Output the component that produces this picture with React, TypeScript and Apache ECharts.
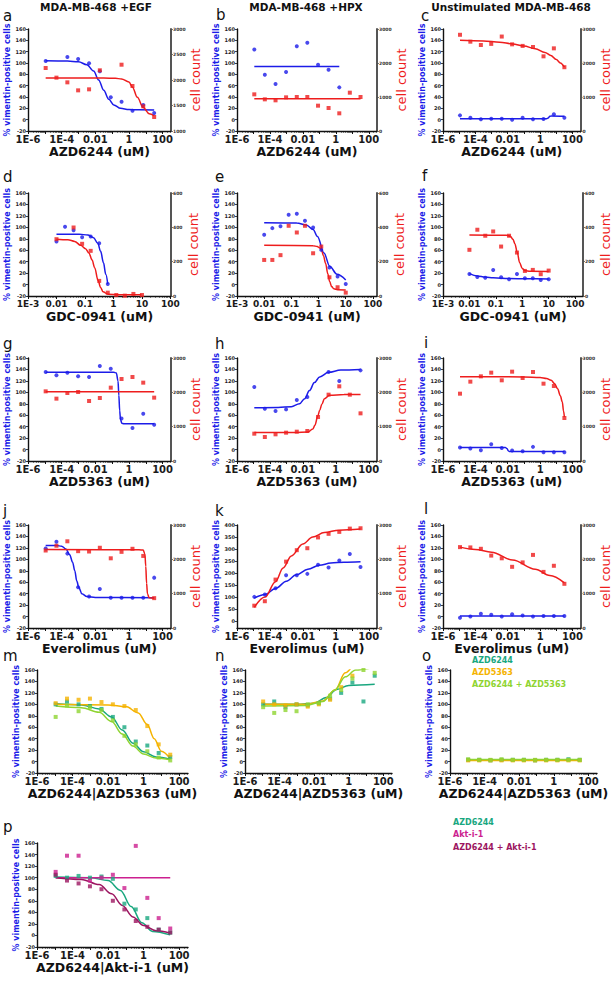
import React, { useEffect, useRef } from "react";
import * as echarts from "echarts";

const FONT = "DejaVu Sans";
const BLUE = "#1c1ce8";
const RED = "#ee1d1d";
const TEAL = "#19a77f";
const ORANGE = "#f5b301";
const LIME = "#8fd431";
const MAGENTA = "#cc1f8f";
const PURPLE = "#9c1560";

// log10 of concentration (uM)
const logConcA = [-4.95, -4.31, -3.66, -3.02, -2.37, -1.73, -1.08, -0.44, 0.21, 0.85, 1.5];
const logConcG = [-2.0, -1.7, -1.4, -1.1, -0.8, -0.5, -0.2, 0.1, 0.4, 0.7, 1.0];

const ticksA = [-6, -4, -2, 0, 2];
const tickLabelsA = ["1E-6", "1E-4", "0.01", "1", "100"];
const ticksG = [-3, -2, -1, 0, 1, 2];
const tickLabelsG = ["1E-3", "0.01", "0.1", "1", "10", "100"];

// a
const aVim = [103.5, null, 110.6, 107, 99.4, 85.3, 39.4, 31.8, 15.9, 25.9, 11.8];
const aCells = [2235, 2046, 1954, 1797, 1817, 2190, null, 2300, 1882, 1484, 1274];
const aVimFit = [[-4.95, 104], [-3.66, 103.5], [-3.0, 102], [-2.5, 97], [-2.1, 86], [-1.8, 70], [-1.5, 52], [-1.2, 36], [-0.9, 26], [-0.5, 20], [0, 18], [0.6, 17.3], [1.5, 17]];
const aCellsFit = [[-4.95, 2040], [-1.5, 2038], [-0.8, 2032], [-0.44, 2022], [0.0, 1960], [0.21, 1860], [0.5, 1660], [0.85, 1460], [1.2, 1340], [1.5, 1300]];
// b
const bVim = [124, 79.4, 62.9, 84, 129.4, 135.9, 97, 88.2, 57, null, null];
const bCells = [1078, 931, 902, 990, 1000, 1000, 745, 676, 520, 1127, 1000];
const bVimFit = [[-4.95, 94], [0.21, 94]];
const bCellsFit = [[-4.95, 945], [1.5, 945]];
// c
const cVim = [7.6, 3.5, 0.6, 1.8, 1.8, 0, 3.5, 0.6, 1.2, 9.4, 3.5];
const cCells = [2830, 2627, 2529, 2562, 2778, 2549, 2503, 2471, 2196, 2431, 1876];
const cVimFit = [[-4.95, 1.8], [0.4, 1.8], [0.5, 3], [0.6, 6], [0.7, 6.6], [1.5, 6.2]];
const cCellsFit = [[-4.95, 2667], [-3.5, 2650], [-2.5, 2610], [-1.7, 2562], [-1.0, 2500], [-0.3, 2418], [0.3, 2310], [0.66, 2222], [1.0, 2100], [1.25, 2000], [1.5, 1876]];
// d
const dVim = [75.3, 100.9, 95, 82.7, 84, 72.3, 1.0, null, null, null, null];
const dCells = [331, null, 399, 304, 263, 88, 19.5, 6, 2, 12, 6];
const dVimFit = [[-2.0, 88], [-1.2, 88], [-0.9, 86.5], [-0.7, 82], [-0.55, 72], [-0.45, 58], [-0.35, 38], [-0.27, 18], [-0.2, 1]];
const dCellsFit = [[-2.0, 331], [-1.6, 328], [-1.36, 318], [-1.15, 295], [-0.98, 275], [-0.86, 250], [-0.75, 210], [-0.66, 165], [-0.54, 90], [-0.45, 50], [-0.37, 25], [-0.19, 10], [0.2, 7], [0.98, 7]];
// e
const eVim = [87, 98.6, 102, 122, 123.8, 111.5, 99.8, 60.6, 29.7, 14, 1];
const eCells = [210, 210, 238, 409, 370, 409, 249, 288, 109, 51, 19.5];
const eVimFit = [[-2.0, 108], [-0.8, 107.5], [-0.45, 104], [-0.2, 96], [-0.04, 84], [0.2, 55], [0.41, 32], [0.68, 18], [1.0, 8]];
const eCellsFit = [[-2.0, 295], [-0.2, 293], [-0.05, 288], [0.05, 280], [0.107, 268], [0.18, 235], [0.26, 190], [0.34, 130], [0.41, 84], [0.48, 55], [0.56, 42], [0.7, 37], [1.0, 35]];
// f
const fVim = [18.6, 13.3, 12, 25.6, 12.7, 9.2, 18.6, 11, 11, 8, 9.2];
const fCells = [269, 386, 351, 376, 288, 351, 253, 146, 152, 127, 148];
const fVimFit = [[-2.0, 19], [-1.7, 15], [-1.4, 13], [-1.1, 11.8], [-0.5, 10.5], [0.2, 10], [1.0, 9.8]];
const fCellsFit = [[-2.0, 355], [-0.6, 354], [-0.45, 348], [-0.35, 330], [-0.28, 305], [-0.19, 255], [-0.1, 195], [0.0, 160], [0.1, 148], [0.3, 144], [1.0, 143]];
// g
const gVim = [135.5, 129.7, 134.3, 128, 126.7, 146, 141.3, 54.4, 37.5, 62.6, 43.3];
const gCells = [2029, 1816, 1981, 2010, 1748, 1835, 2136, 2388, 2447, 2282, 1845];
const gVimFit = [[-4.95, 135], [-0.9, 135], [-0.75, 134], [-0.65, 120], [-0.6, 95], [-0.55, 68], [-0.5, 52], [-0.42, 46], [-0.3, 45], [1.5, 45]];
const gCellsFit = [[-4.95, 2020], [1.5, 2020]];
// h
const hVim = [109.2, 71.3, 67.2, 70.2, 86.5, 91.7, null, 135.5, 119.7, null, 138.4];
const hCells = [796, 699, 777, 825, 854, 874, 1282, 1932, 2175, 1932, 1388];
const hVimFit = [[-4.95, 73], [-3.5, 73.5], [-2.7, 75], [-2.2, 80], [-1.89, 89], [-1.6, 103], [-1.3, 117], [-0.98, 127], [-0.44, 135], [0.3, 139], [1.5, 140]];
const hCellsFit = [[-4.95, 830], [-2.5, 832], [-1.69, 845], [-1.4, 930], [-1.27, 1040], [-1.1, 1300], [-0.98, 1476], [-0.85, 1650], [-0.69, 1815], [-0.38, 1913], [0.5, 1938], [1.5, 1940]];
// i
const iVim = [3.5, 1.7, -1.2, 9.3, 2.9, -1.7, -2.9, 4.7, -4.7, -4.7, -4.7];
const iCells = [1961, 2311, 2466, 2573, 2350, 2602, 2417, 2592, 2252, 2184, 1252];
const iVimFit = [[-4.95, 3.5], [-2.15, 3.5], [-2.05, 2], [-1.97, -2], [-1.9, -3.5], [1.5, -3.5]];
const iCellsFit = [[-4.95, 2455], [-1.0, 2450], [0.0, 2430], [0.4, 2400], [0.68, 2350], [0.9, 2250], [1.08, 2107], [1.25, 1900], [1.37, 1718], [1.45, 1450], [1.5, 1281]];
// j
const jVim = [118.8, 130.6, 110, 51.2, 35, 48.2, 33, 33, 33, 33, 68];
const jCells = [2257, 2396, 2525, 2238, 2228, 2337, 2030, 2218, 2307, 2099, 870];
const jVimFit = [[-4.95, 124], [-4.3, 124], [-4.0, 123], [-3.75, 118], [-3.52, 108], [-3.35, 95], [-3.22, 80], [-3.1, 62], [-2.98, 51], [-2.8, 40], [-2.5, 35], [-2.0, 33.5], [1.5, 33]];
const jCellsFit = [[-4.95, 2285], [0.6, 2280], [0.85, 2270], [0.95, 2150], [1.0, 1800], [1.05, 1300], [1.1, 1000], [1.2, 880], [1.5, 870]];
// k
const kVim = [100, 110, 136, 190.6, 190.6, 196, 234, 223, 252, 278.6, 225];
const kCells = [650, 780, 1410, 1933, 2267, 2324, 2638, 2743, 2800, 2895, 2905];
const kVimFit = [[-4.95, 95], [-4.3, 110], [-3.66, 135], [-3.0, 165], [-2.4, 192], [-1.7, 215], [-1.0, 232], [-0.3, 241], [0.5, 245], [1.5, 247]];
const kCellsFit = [[-4.95, 600], [-4.3, 900], [-3.66, 1350], [-3.2, 1750], [-2.7, 2100], [-2.0, 2450], [-1.4, 2650], [-0.7, 2780], [0.2, 2850], [1.5, 2880]];
// l
const lVim = [-2, 0, 5, 3, 0, 4, 2, 0, 1, 1, 1];
const lCells = [2356, 2347, 2307, 2109, 2030, 1782, 1911, 2129, 1634, 1812, 1287];
const lVimFit = [[-4.95, 1], [1.5, 1]];
const lCellsFit = [[-4.95, 2356], [-4.0, 2290], [-3.0, 2208], [-1.7, 1980], [-0.3, 1713], [0.6, 1530], [1.5, 1317]];
// m
const mAzd6244 = [100, 105, 100, 97, 92, 78, 60, 35, 28, 15, 8];
const mAzd5363 = [102, 110, 108, 110, 104, 100, 97, 90, 62, 30, 12];
const mCombo = [78, 98, 88, 95, 90, 72, 45, 30, 18, 7, 2];
const mAzd6244Fit = [[-4.95, 101], [-3.5, 99], [-2.5, 92], [-1.8, 78], [-1.2, 55], [-0.6, 32], [0, 17], [0.7, 8], [1.5, 4]];
const mAzd5363Fit = [[-4.95, 100], [-2, 99], [-1, 96], [-0.3, 85], [0.2, 65], [0.6, 40], [1.0, 18], [1.5, 5]];
const mComboFit = [[-4.95, 97], [-3.5, 94], [-2.5, 86], [-1.8, 70], [-1.2, 48], [-0.6, 27], [0, 13], [0.7, 6], [1.5, 3]];
// n
const nAzd6244 = [100, 105, 95, 100, 98, 102, 110, 120, 138, 105, 150];
const nAzd5363 = [105, 100, 98, 100, 96, 100, 108, 130, 150, 165, 170];
const nCombo = [95, 85, 90, 88, 100, 102, 115, 125, 145, 160, 155];
const nAzd6244Fit = [[-4.95, 100], [-3, 100], [-2, 102], [-1.3, 112], [-0.7, 126], [0, 133], [1.5, 135]];
const nAzd5363Fit = [[-4.95, 100], [-2.5, 100], [-1.5, 106], [-0.8, 125], [-0.2, 155], [0.4, 170], [1.5, 175]];
const nComboFit = [[-4.95, 97], [-2.5, 98], [-1.5, 105], [-0.8, 125], [-0.2, 148], [0.4, 160], [1.5, 165]];
// o
const oAzd6244 = [3, 3, 2, 3, 3, 3, 2, 3, 3, 4, 3];
const oAzd5363 = [2, 2, 2, 2, 2, 2, 2, 2, 2, 2, 2];
const oCombo = [4, 3, 3, 4, 3, 3, 3, 3, 3, 3, 3];
const oAzd6244Fit = [[-4.95, 3], [1.5, 3]];
const oAzd5363Fit = [[-4.95, 2], [1.5, 2]];
const oComboFit = [[-4.95, 3.5], [1.5, 3.5]];
// p
const pAzd6244 = [103, 100, 103, 100, 102, 98, 55, 45, 30, 10, 5];
const pAkt = [110, 138, 138, 95, 100, 105, 82, 155, 65, 30, 12];
const pCombo = [105, 95, 90, 85, 80, 60, 45, 25, 15, 10, 5];
const pAzd6244Fit = [[-4.95, 101], [-3.0, 100], [-2.0, 95], [-1.3, 78], [-0.7, 50], [-0.1, 22], [0.5, 7], [1.5, 1]];
const pAktFit = [[-4.95, 100], [1.5, 100]];
const pComboFit = [[-4.95, 100], [-3.5, 97], [-2.5, 88], [-1.8, 72], [-1.2, 52], [-0.6, 32], [0, 17], [0.7, 8], [1.5, 4]];

const legendO = ["AZD6244", "AZD5363", "AZD6244 + AZD5363"];
const legendP = ["AZD6244", "Akt-i-1", "AZD6244 + Akt-i-1"];

function pts(xs: number[], ys: (number | null)[]) {
  const out: number[][] = [];
  ys.forEach((y, i) => { if (y !== null) out.push([xs[i], y]); });
  return out;
}

type S = { kind: "scatter" | "line"; side: "L" | "R"; color: string; data: number[][]; symbol?: string };
type P = {
  letter: string; l: number; r: number; t: number; b: number;
  scale: "A" | "G"; xMin: number; xMax: number; xTitle: string;
  left?: { min: number; max: number; ticks: number[] };
  right?: { min: number; max: number; interval: number };
  series: S[];
};

function bioPanel(letter: string, l: number, r: number, t: number, b: number, scale: "A" | "G", xMin: number, xMax: number, xTitle: string,
  right: { min: number; max: number; interval: number }, vim: (number | null)[], cells: (number | null)[], vimFit: number[][], cellsFit: number[][], left?: { min: number; max: number; ticks: number[] }): P {
  const xs = scale === "A" ? logConcA : logConcG;
  return {
    letter, l, r, t, b, scale, xMin, xMax, xTitle, right, left,
    series: [
      { kind: "line", side: "L", color: BLUE, data: vimFit },
      { kind: "line", side: "R", color: RED, data: cellsFit },
      { kind: "scatter", side: "L", color: BLUE, data: pts(xs, vim), symbol: "circle" },
      { kind: "scatter", side: "R", color: RED, data: pts(xs, cells), symbol: "rect" },
    ],
  };
}

function comboPanel(letter: string, l: number, r: number, t: number, b: number, xTitle: string, cols: string[], vals: number[][], fits: number[][][]): P {
  const series: S[] = [];
  cols.forEach((c, k) => {
    series.push({ kind: "line", side: "L", color: c, data: fits[k] });
    series.push({ kind: "scatter", side: "L", color: c, data: pts(logConcA, vals[k]), symbol: "rect" });
  });
  return { letter, l, r, t, b, scale: "A", xMin: -6, xMax: 2.5, xTitle, series };
}

const R1 = [29, 131], R2 = [193, 296], R3 = [358, 461], R4 = [525, 628], R5 = [670, 773], R6 = [843, 947];
const C1 = [28, 171], C2 = [237, 377], C3 = [443, 585];
const rA = { min: 1000, max: 3000, interval: 500 };
const r3k = { min: 0, max: 3000, interval: 1000 };
const r600 = { min: 0, max: 600, interval: 200 };

const PANELS: P[] = [
  bioPanel("a", C1[0], C1[1], R1[0], R1[1], "A", -6, 2.5, "AZD6244 (uM)", rA, aVim, aCells, aVimFit, aCellsFit),
  bioPanel("b", C2[0], C2[1], R1[0], R1[1], "A", -6, 2.5, "AZD6244 (uM)", r3k, bVim, bCells, bVimFit, bCellsFit),
  bioPanel("c", C3[0], C3[1], R1[0], R1[1], "A", -6, 2.5, "AZD6244 (uM)", r3k, cVim, cCells, cVimFit, cCellsFit),
  bioPanel("d", C1[0], C1[1], R2[0], R2[1], "G", -3, 2.02, "GDC-0941 (uM)", r600, dVim, dCells, dVimFit, dCellsFit),
  bioPanel("e", C2[0], C2[1], R2[0], R2[1], "G", -3, 2.15, "GDC-0941 (uM)", r600, eVim, eCells, eVimFit, eCellsFit),
  bioPanel("f", C3[0], C3[1], R2[0], R2[1], "G", -3, 2.3, "GDC-0941 (uM)", r600, fVim, fCells, fVimFit, fCellsFit),
  bioPanel("g", C1[0], C1[1], R3[0], R3[1], "A", -6, 2.5, "AZD5363 (uM)", r3k, gVim, gCells, gVimFit, gCellsFit),
  bioPanel("h", C2[0], C2[1], R3[0], R3[1], "A", -6, 2.5, "AZD5363 (uM)", r3k, hVim, hCells, hVimFit, hCellsFit),
  bioPanel("i", C3[0], C3[1], R3[0], R3[1], "A", -6, 2.5, "AZD5363 (uM)", r3k, iVim, iCells, iVimFit, iCellsFit),
  bioPanel("j", C1[0], C1[1], R4[0], R4[1], "A", -6, 2.5, "Everolimus (uM)", r3k, jVim, jCells, jVimFit, jCellsFit),
  bioPanel("k", C2[0], C2[1], R4[0], R4[1], "A", -6, 2.5, "Everolimus (uM)", r3k, kVim, kCells, kVimFit, kCellsFit,
    { min: -30, max: 400, ticks: [0, 50, 100, 150, 200, 250, 300, 350, 400] }),
  bioPanel("l", C3[0], C3[1], R4[0], R4[1], "A", -6, 2.5, "Everolimus (uM)", r3k, lVim, lCells, lVimFit, lCellsFit),
  comboPanel("m", 37, 188, R5[0], R5[1], "AZD6244|AZD5363 (uM)", [TEAL, ORANGE, LIME], [mAzd6244, mAzd5363, mCombo], [mAzd6244Fit, mAzd5363Fit, mComboFit]),
  comboPanel("n", 245, 392, R5[0], R5[1], "AZD6244|AZD5363 (uM)", [TEAL, ORANGE, LIME], [nAzd6244, nAzd5363, nCombo], [nAzd6244Fit, nAzd5363Fit, nComboFit]),
  comboPanel("o", 450, 597, R5[0], R5[1], "AZD6244|AZD5363 (uM)", [TEAL, ORANGE, LIME], [oAzd6244, oAzd5363, oCombo], [oAzd6244Fit, oAzd5363Fit, oComboFit]),
  comboPanel("p", 37, 188, R6[0], R6[1], "AZD6244|Akt-i-1 (uM)", [TEAL, MAGENTA, PURPLE], [pAzd6244, pAkt, pCombo], [pAzd6244Fit, pAktFit, pComboFit]),
];

function minorTicks(min: number, max: number) {
  const out: number[] = [];
  for (let d = Math.floor(min); d <= Math.ceil(max); d++) {
    for (let k = 2; k <= 9; k++) {
      const v = d + Math.log10(k);
      if (v > min + 1e-6 && v < max - 1e-6) out.push(v);
    }
  }
  return out;
}

function buildOption() {
  const grid: any[] = [], xAxis: any[] = [], yAxis: any[] = [], series: any[] = [], graphic: any[] = [];
  PANELS.forEach((p) => {
    const gi = grid.length;
    grid.push({ left: p.l, top: p.t, width: p.r - p.l, height: p.b - p.t, containLabel: false });
    const major = p.scale === "A" ? ticksA : ticksG;
    const labels = p.scale === "A" ? tickLabelsA : tickLabelsG;
    const decades: number[] = [];
    for (let d = Math.ceil(p.xMin); d <= Math.floor(p.xMax); d++) decades.push(d);
    const xi = xAxis.length;
    xAxis.push({
      type: "value", gridIndex: gi, min: p.xMin, max: p.xMax, position: "bottom",
      axisLine: { onZero: false, lineStyle: { color: "#111", width: 1.4 } },
      axisTick: { show: true, customValues: decades, length: 3, lineStyle: { color: "#111", width: 1 } },
      axisLabel: {
        customValues: major, margin: 3, fontFamily: FONT, fontWeight: "bold", fontSize: p.scale === "A" ? 10 : 9, color: "#1a1a1a",
        showMinLabel: true, showMaxLabel: true, hideOverlap: false,
        formatter: (v: number) => labels[major.indexOf(Math.round(v))] ?? "",
      },
      splitLine: { show: false },
      name: p.xTitle, nameLocation: "middle", nameGap: 14,
      nameTextStyle: { fontFamily: FONT, fontWeight: "bold", fontSize: 12.5, color: "#111" },
    });
    xAxis.push({
      type: "value", gridIndex: gi, min: p.xMin, max: p.xMax, position: "bottom",
      axisLine: { show: false, onZero: false },
      axisTick: { show: true, customValues: minorTicks(p.xMin, p.xMax), length: 1.6, lineStyle: { color: "#111", width: 0.8 } },
      axisLabel: { show: false }, splitLine: { show: false },
    });
    const left = p.left ?? { min: -20, max: 160, ticks: [-20, 0, 20, 40, 60, 80, 100, 120, 140, 160] };
    const yl = yAxis.length;
    yAxis.push({
      type: "value", gridIndex: gi, min: left.min, max: left.max, position: "left",
      axisLine: { show: true, onZero: false, lineStyle: { color: "#111", width: 1.4 } },
      axisTick: { show: true, customValues: left.ticks, length: 2, lineStyle: { color: "#111", width: 0.8 } },
      axisLabel: {
        customValues: left.ticks, margin: 2, fontFamily: FONT, fontWeight: "bold", fontSize: 5, color: "#222",
        showMinLabel: true, showMaxLabel: true, formatter: (v: number) => String(Math.round(v)),
      },
      splitLine: { show: false },
      name: "% vimentin-positive cells", nameLocation: "middle", nameRotate: 90, nameGap: 14,
      nameTextStyle: { fontFamily: FONT, fontWeight: "bold", fontSize: 8, color: BLUE },
    });
    let yr = yl;
    if (p.right) {
      yr = yAxis.length;
      yAxis.push({
        type: "value", gridIndex: gi, min: p.right.min, max: p.right.max, interval: p.right.interval, position: "right",
        axisLine: { show: true, onZero: false, lineStyle: { color: "#555", width: 2 } },
        axisTick: { show: true, length: 2, lineStyle: { color: "#555", width: 0.8 } },
        axisLabel: {
          margin: 2, fontFamily: FONT, fontWeight: "bold", fontSize: 4.5, color: "#333",
          showMinLabel: true, showMaxLabel: true, formatter: (v: number) => String(Math.round(v)),
        },
        splitLine: { show: false },
        name: "cell count", nameLocation: "middle", nameRotate: 90, nameGap: 16,
        nameTextStyle: { fontFamily: FONT, fontSize: 13, color: RED },
      });
    }
    p.series.forEach((s) => {
      const yIndex = s.side === "L" ? yl : yr;
      if (s.kind === "line") {
        series.push({
          type: "line", xAxisIndex: xi, yAxisIndex: yIndex, data: s.data, showSymbol: false, symbol: "none",
          smooth: 0.35, smoothMonotone: "x", lineStyle: { color: s.color, width: 1.5 }, silent: true, z: 2,
        });
      } else {
        series.push({
          type: "scatter", xAxisIndex: xi, yAxisIndex: yIndex, data: s.data, symbol: s.symbol ?? "circle",
          symbolSize: 4, itemStyle: { color: s.color }, silent: true, z: 3,
        });
      }
    });
  });

  const letters: Record<string, number[]> = {
    a: [3, 16], b: [216, 15], c: [421, 16], d: [3, 177], e: [215, 177], f: [422, 176],
    g: [3, 344], h: [215, 344], i: [424, 343], j: [3, 511], k: [215, 511], l: [424, 509],
    m: [3, 656], n: [215, 656], o: [422, 656], p: [3, 827],
  };
  Object.keys(letters).forEach((k) => {
    graphic.push({ type: "text", x: letters[k][0], y: letters[k][1], style: { text: k, fontFamily: FONT, fontSize: 15, fill: "#111", verticalAlign: "middle" } });
  });
  const headers: [string, number][] = [["MDA-MB-468 +EGF", 96], ["MDA-MB-468 +HPX", 306], ["Unstimulated MDA-MB-468", 511]];
  headers.forEach(([t, x]) => {
    graphic.push({ type: "text", x, y: 7, style: { text: t, fontFamily: FONT, fontWeight: "bold", fontSize: 10.5, fill: "#111", align: "center", verticalAlign: "middle" } });
  });
  const legO = [TEAL, ORANGE, LIME];
  legendO.forEach((t, i) => {
    graphic.push({ type: "text", x: 472, y: 660 + i * 12, style: { text: t, fontFamily: FONT, fontWeight: "bold", fontSize: 8, fill: legO[i], verticalAlign: "middle" } });
  });
  const legP = [TEAL, MAGENTA, PURPLE];
  legendP.forEach((t, i) => {
    graphic.push({ type: "text", x: 453, y: 822 + i * 12.5, style: { text: t, fontFamily: FONT, fontWeight: "bold", fontSize: 8, fill: legP[i], verticalAlign: "middle" } });
  });

  return { animation: false, backgroundColor: "#ffffff", grid, xAxis, yAxis, series, graphic };
}

export default function App() {
  const ref = useRef<HTMLDivElement>(null);
  useEffect(() => {
    if (!ref.current) return;
    const chart = echarts.init(ref.current, undefined, { renderer: "svg" });
    chart.setOption(buildOption() as any);
    return () => chart.dispose();
  }, []);
  return <div ref={ref} style={{ position: "absolute", left: 0, top: 0, width: 613, height: 992, background: "#fff" }} />;
}
